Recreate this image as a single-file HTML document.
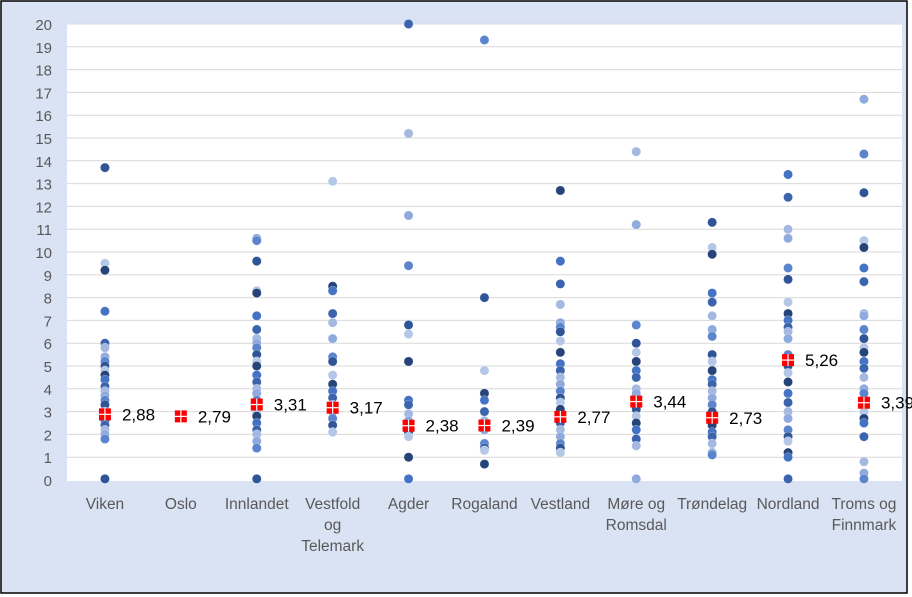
<!DOCTYPE html>
<html><head><meta charset="utf-8"><style>
html,body{margin:0;padding:0;background:#fff;}
svg{display:block;font-family:"Liberation Sans",sans-serif;}
</style></head><body>
<svg id="s" width="912" height="597" xmlns="http://www.w3.org/2000/svg">
<rect x="1" y="1" width="906" height="592" fill="#dae3f3" stroke="#000" stroke-width="1.5"/>
<rect x="67" y="24" width="835" height="457" fill="#fff"/>
<g id="g"></g>
</svg>
<script>
const g=document.getElementById('g');const NS='http://www.w3.org/2000/svg';
function el(t,a,txt){const e=document.createElementNS(NS,t);for(const k in a)e.setAttribute(k,a[k]);if(txt!==undefined)e.textContent=txt;g.appendChild(e);return e;}
const Y=v=>480-v*22.8;
for(let i=0;i<=20;i++){ if(i>0) el('line',{x1:67,x2:902,y1:Y(i),y2:Y(i),stroke:'#d9d9d9','stroke-width':1});
 el('text',{x:52,y:Y(i)+6,'text-anchor':'end','font-size':15,fill:'#595959'},i);}
const cats=[["Viken"],["Oslo"],["Innlandet"],["Vestfold","og","Telemark"],["Agder"],["Rogaland"],["Vestland"],["Møre og","Romsdal"],["Trøndelag"],["Nordland"],["Troms og","Finnmark"]];
const data=[
[13.7,9.5,9.2,7.4,6.0,5.8,5.4,5.2,5.0,4.8,4.6,4.4,4.1,3.9,3.7,3.5,3.3,3.0,2.8,2.6,2.4,2.2,2.0,1.8,0.05],
[],
[10.6,10.5,9.6,8.3,8.2,7.2,6.6,6.2,6.0,5.8,5.5,5.2,5.0,4.6,4.3,4.0,3.8,3.5,3.2,3.0,2.8,2.5,2.2,2.0,1.7,1.4,0.05],
[13.1,8.5,8.3,7.3,6.9,6.2,5.4,5.2,4.6,4.2,3.9,3.6,3.3,3.0,2.7,2.4,2.1],
[20,15.2,11.6,9.4,6.8,6.4,5.2,3.5,3.3,2.9,2.6,2.4,2.1,1.9,1.0,0.05],
[19.3,8.0,4.8,3.8,3.5,3.0,2.6,2.2,1.6,1.4,1.3,0.7],
[12.7,9.6,8.6,7.7,6.9,6.7,6.5,6.1,5.6,5.1,4.8,4.5,4.2,3.9,3.6,3.4,3.1,2.8,2.5,2.2,1.9,1.6,1.4,1.2],
[14.4,11.2,6.8,6.0,5.6,5.2,4.8,4.5,4.0,3.8,3.4,3.1,2.8,2.5,2.2,1.8,1.5,0.05],
[11.3,10.2,9.9,8.2,7.8,7.2,6.6,6.3,5.5,5.2,4.8,4.4,4.2,3.9,3.6,3.3,3.0,2.7,2.4,2.1,1.9,1.6,1.2,1.1],
[13.4,12.4,11.0,10.6,9.3,8.8,7.8,7.3,7.0,6.7,6.5,6.2,5.5,5.0,4.7,4.3,3.8,3.4,3.0,2.7,2.2,1.9,1.7,1.2,1.0,0.05],
[16.7,14.3,12.6,10.5,10.2,9.3,8.7,7.3,7.2,6.6,6.2,5.8,5.6,5.2,4.9,4.5,4.0,3.8,3.4,3.0,2.7,2.5,1.9,0.8,0.3,0.05]];
const means=["2,88","2,79","3,31","3,17","2,38","2,39","2,77","3,44","2,73","5,26","3,39"];
const cols=['#2f5597','#4472c4','#8faadc','#b4c7e7','#3b64ad','#5b84cc','#264478','#a5b8e0'];
for(let c=0;c<11;c++){const x=67+75.9*(c+0.5);
 data[c].forEach((v,i)=>el('circle',{cx:x,cy:Y(v),r:4.6,fill:cols[(i*3+c)%cols.length],stroke:'#fff','stroke-width':0.5,'stroke-opacity':0.5}));
 const m=parseFloat(means[c].replace(',','.'));const my=Y(m);
 el('rect',{x:x-6,y:my-6,width:12,height:12,fill:'#ff0000'});
 el('line',{x1:x,x2:x,y1:my-6,y2:my+6,stroke:'#fff','stroke-width':1.2});
 el('line',{x1:x-6,x2:x+6,y1:my,y2:my,stroke:'#fff','stroke-width':1.2});
 el('text',{x:x+17,y:my+6,'font-size':17,fill:'#000'},means[c]);
 cats[c].forEach((t,j)=>el('text',{x:x,y:509+j*21,'text-anchor':'middle','font-size':15.5,fill:'#595959'},t));
}
</script>
</body></html>
